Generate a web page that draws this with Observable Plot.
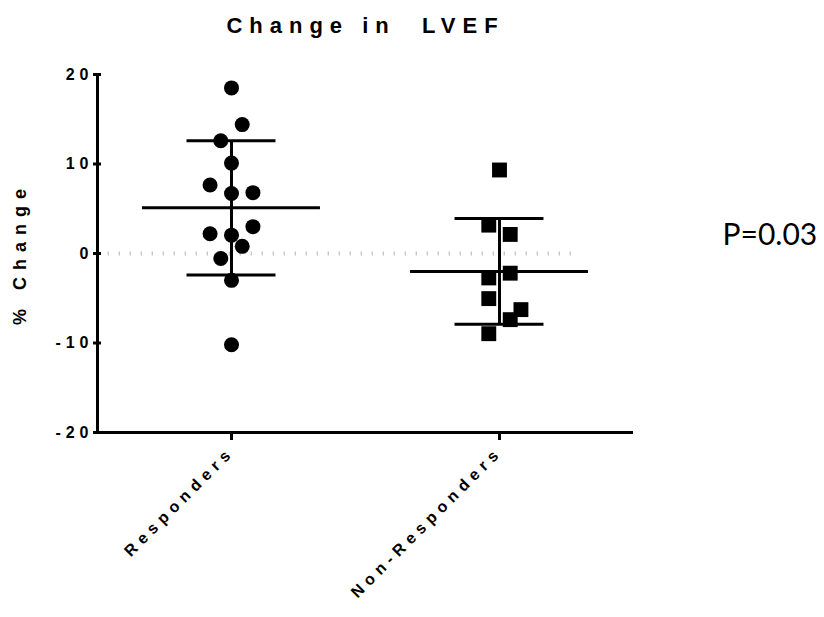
<!DOCTYPE html>
<html><head><meta charset="utf-8">
<script src="https://cdn.jsdelivr.net/npm/d3@7"></script>
<script src="https://cdn.jsdelivr.net/npm/@observablehq/plot@0.6"></script>
<style>
body{margin:0;background:#fff;}
#chart svg{display:block;}
</style></head><body><div id="chart"></div>
<script>
const groups = ["Responders", "Non-Responders"];
const responders = [18.5, 14.4, 12.6, 10.1, 7.65, 6.8, 6.7, 3.0, 2.2, 2.05, 0.8, -0.56, -3.0, -10.2];
const responderSlots = [0, 1, -1, 0, -2, 2, 0, 2, -2, 0, 1, -1, 0, 0];
const nonResponders = [9.33, 3.17, 2.13, -2.2, -2.73, -5.04, -6.27, -7.39, -8.96];
const nonResponderSlots = [0, -1, 1, 1, -1, -1, 2, 1, -1];
const groupMeans = [5.1, -2.0];
const groupSDs = [7.5, 5.9];
const yTicks = [-20, -10, 0, 10, 20];
const titleText = "Change in  LVEF";
const yLabelText = "% Change";
const pText = "P=0.03";

const step = 0.04;
const respRows = responders.map((v, i) => ({g: 1, v, slot: responderSlots[i]}));
const nonRows = nonResponders.map((v, i) => ({g: 2, v, slot: nonResponderSlots[i]}));
const summary = groups.map((name, i) => ({g: i + 1, mean: groupMeans[i], sd: groupSDs[i]}));

const chart = Plot.plot({
  width: 824, height: 617,
  marginLeft: 97, marginRight: 191, marginTop: 74, marginBottom: 185,
  style: {fontFamily: "'Liberation Sans', Arial, sans-serif", fontWeight: "bold", background: "#fff"},
  x: {domain: [0.5, 2.5]},
  y: {domain: [-20, 20]},
  marks: [
    Plot.ruleY([0], {x1: 0.54, x2: 2.27, stroke: "#b0b0b0", strokeWidth: 4, strokeDasharray: "1 10"}),
    Plot.ruleY(summary, {y: "mean", x1: d => d.g - 0.332, x2: d => d.g + 0.332, stroke: "#000", strokeWidth: 3}),
    Plot.ruleY(summary, {y: d => d.mean + d.sd, x1: d => d.g - 0.166, x2: d => d.g + 0.166, stroke: "#000", strokeWidth: 3}),
    Plot.ruleY(summary, {y: d => d.mean - d.sd, x1: d => d.g - 0.166, x2: d => d.g + 0.166, stroke: "#000", strokeWidth: 3}),
    Plot.ruleX(summary, {x: "g", y1: d => d.mean - d.sd, y2: d => d.mean + d.sd, stroke: "#000", strokeWidth: 3}),
    Plot.dot(respRows, {x: d => d.g + d.slot * step, y: "v", r: 7.5, fill: "#000", symbol: "circle"}),
    Plot.dot(nonRows, {x: d => d.g + d.slot * step, y: "v", r: 8.4, fill: "#000", symbol: "square"}),
    Plot.ruleX([0.5], {y1: -20, y2: 20, stroke: "#000", strokeWidth: 3}),
    Plot.ruleY([-20], {x1: 0.5, x2: 2.5, stroke: "#000", strokeWidth: 3}),
    Plot.axisY({ticks: yTicks, tickFormat: d => String(d), tickSize: 8, strokeWidth: 3, tickPadding: 0, dx: 4, label: null}),
    Plot.axisX({ticks: [1, 2], tickFormat: d => groups[d - 1], tickSize: 8, strokeWidth: 3, tickRotate: -45, tickPadding: 9, label: null}),
    Plot.text([titleText], {frameAnchor: "top", dy: -49, lineAnchor: "middle"}),
    Plot.text([yLabelText], {frameAnchor: "left", dx: -77, rotate: -90, textAnchor: "middle"}),
    Plot.text([pText], {frameAnchor: "right", dx: 89, dy: -18, textAnchor: "start"})
  ]
});
document.getElementById("chart").appendChild(chart);

const svg = d3.select(chart);
svg.selectAll('g[aria-label="y-axis tick label"] text')
  .style("font-size", "16px").style("letter-spacing", "5px");
svg.selectAll('g[aria-label="x-axis tick label"] text')
  .style("font-size", "16px").style("letter-spacing", "5.5px");
svg.selectAll("text").each(function() {
  const t = this.textContent;
  const s = d3.select(this);
  if (t === titleText) s.style("font-size", "22px").style("letter-spacing", "7px").style("white-space", "pre");
  else if (t === yLabelText) s.style("font-size", "18px").style("letter-spacing", "7px");
  else if (t === pText) s.style("font-size", "30px").style("font-family", "Lato, 'Noto Sans', sans-serif").style("font-weight", "normal");
});
</script></body></html>
